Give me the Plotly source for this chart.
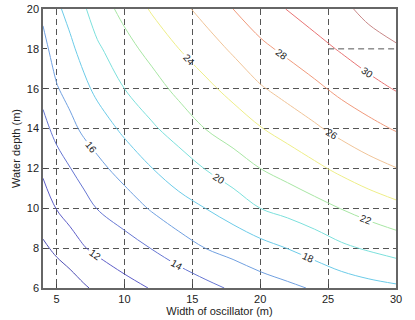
import plotly.graph_objects as go

# grid: oscillator width (m) x water depth (m)
width = [4, 5, 6, 7, 8, 10, 12, 14, 16, 18, 20, 22, 24, 26, 28, 30]
depth = [6, 8, 10, 12, 14, 16, 18, 20]

# estimated values at each (depth, width) node
z_d6 = [8.3, 8.8, 9.0, 9.74, 10.4, 11.36, 12.1, 12.63, 13.46, 14.26, 15.06, 15.59, 16.19, 16.83, 17.34, 17.68]
z_d8 = [9.7, 10.34, 11.14, 11.9, 12.4, 13.19, 14.05, 15.1, 16.03, 16.69, 17.35, 18.03, 18.8, 19.65, 20.22, 20.79]
z_d10 = [11.02, 12.06, 12.74, 13.27, 14.05, 15.0, 16.19, 17.23, 18.02, 18.91, 20.0, 20.62, 21.32, 22.06, 22.81, 23.48]
z_d12 = [12.32, 13.26, 13.96, 14.78, 15.48, 16.75, 17.96, 19.04, 20.08, 21.07, 22.0, 22.76, 23.58, 24.47, 25.3, 25.95]
z_d14 = [13.5, 14.51, 15.49, 16.35, 17.0, 18.4, 19.72, 20.82, 22.05, 22.9, 23.9, 24.76, 25.71, 26.63, 27.42, 28.16]
z_d16 = [14.54, 15.86, 16.65, 17.53, 18.45, 20.0, 21.17, 22.51, 23.54, 24.62, 25.79, 26.73, 27.56, 28.52, 29.36, 30.12]
z_d18 = [15.48, 16.78, 17.61, 18.66, 19.69, 21.29, 22.64, 23.99, 25.1, 26.29, 27.57, 28.41, 29.34, 30.2, 31.06, 31.77]
z_d20 = [16.38, 17.65, 18.62, 19.75, 21.0, 22.58, 24.2, 25.42, 26.67, 28.0, 29.11, 30.06, 30.91, 31.53, 32.6, 33.27]
z = [z_d6, z_d8, z_d10, z_d12, z_d14, z_d16, z_d18, z_d20]

x_ticks = [5, 10, 15, 20, 25, 30]
y_ticks = [6, 8, 10, 12, 14, 16, 18, 20]

line_colors = [
    [0.0, "#5050b4"], [0.0909, "#5e5ec8"], [0.1818, "#6676d2"], [0.2727, "#70a0e0"],
    [0.3636, "#6ccbe8"], [0.4545, "#7ce0dc"], [0.5454, "#a8e6a4"], [0.6363, "#eeee88"],
    [0.7272, "#f0c498"], [0.8181, "#f09a7c"], [0.9090, "#e87474"], [1.0, "#c88888"],
]

fig = go.Figure()
fig.add_trace(go.Contour(
    x=width, y=depth, z=z,
    zmin=10, zmax=32, zauto=False,
    colorscale=line_colors, showscale=False,
    contours=dict(start=10, end=32, size=2, coloring="lines", showlabels=True,
                  labelformat=".0f",
                  labelfont=dict(size=10, color="#222", family="Liberation Sans")),
    line=dict(width=1, smoothing=1),
    hoverinfo="skip",
))

# stray bit of the 18 m grid line on the right
fig.add_shape(type="line", x0=25, x1=30, y0=18, y1=18, xref="x", yref="y",
              line=dict(color="#555", width=1, dash="6px,4px"))

axis_style = dict(showline=True, mirror=True, linecolor="#666", linewidth=1.5,
                  ticks="inside", ticklen=4, tickcolor="#444",
                  tickfont=dict(size=11, color="#222"), zeroline=False,
                  ticklabeloverflow="allow", automargin=False)

fig.update_layout(
    width=415, height=320,
    margin=dict(l=43, r=19, t=9, b=32, autoexpand=False),
    paper_bgcolor="white", plot_bgcolor="white",
    font=dict(family="Liberation Sans", color="#222"),
    xaxis=dict(range=[4, 30], tickvals=x_ticks, showgrid=True, gridcolor="#555",
               griddash="6px,4px", gridwidth=1,
               title=dict(text="Width of oscillator (m)", font=dict(size=11), standoff=2),
               **axis_style),
    yaxis=dict(range=[6, 20], tickvals=y_ticks, showgrid=False,
               minor=dict(tickvals=[8, 10, 12, 14, 16], showgrid=True, gridcolor="#555",
                          griddash="6px,4px", gridwidth=1, ticks=""),
               title=dict(text="Water depth (m)", font=dict(size=11), standoff=4),
               **axis_style),
)

# drop the browser's default body margin so the 415x320 figure fills the window
fig.write_html("out.html", config={"displayModeBar": False},
               post_script="document.body.style.margin='0';")
